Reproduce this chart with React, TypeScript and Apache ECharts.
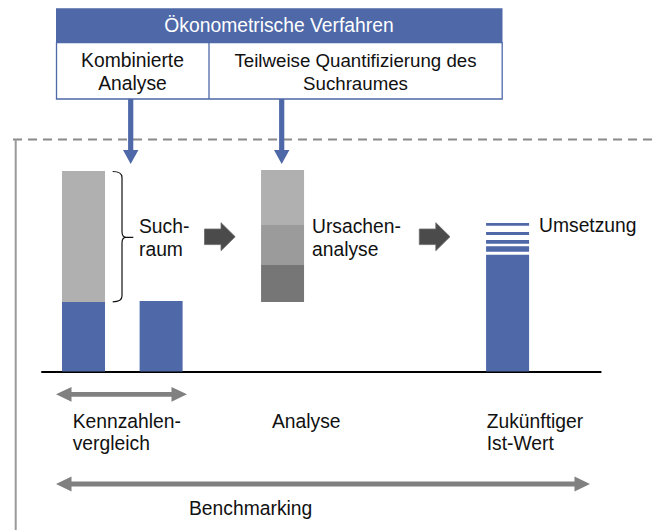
import React, { useEffect, useRef } from 'react';
import * as echarts from 'echarts';

// Stufen (x-Positionen der Säulen) und Werte
const stageNames = ['Kennzahlen A', 'Kennzahlen B', 'Ursachenanalyse', 'Zukünftiger Ist-Wert'];
const stagePositions = [1.07, 3.07, 6.2, 12.0];
const istWerte = [34.8, 35.3, 0, 58.4];
const versatz = [0, 0, 34.8, 0];
const ursacheDunkel = [0, 0, 18.5, 0];
const ursacheMittel = [0, 0, 20, 0];
const suchraumHell = [65.4, 0, 27.5, 0];
const umsetzungLuecken = [1.5, 1.3, 2.6, 3.2];
const umsetzungStreifen = [2.7, 1.8, 1.4, 1.4];

const headerTitle = 'Ökonometrische Verfahren';
const methodLabels = ['Kombinierte\nAnalyse', 'Teilweise Quantifizierung des\nSuchraumes'];
const phaseLabels = ['Kennzahlen-\nvergleich', 'Analyse', 'Zukünftiger\nIst-Wert'];
const barLabels = ['Such-\nraum', 'Ursachen-\nanalyse', 'Umsetzung'];
const spanLabel = 'Benchmarking';

const BLUE = '#4e68a8';
const FONT = '"Liberation Sans", Arial, sans-serif';
const FS = 19.3;

let registered = false;
function registerShapes() {
  if (registered) return;
  registered = true;
  const brace =
    'M112.7 171.5 Q122 171.5 122 177.5 L122 231.5 Q122 237.3 126 237.3 L133.3 237.3 M126 237.3 Q122 237.3 122 243 L122 296 Q122 301.8 112.7 301.8';
  echarts.graphic.registerShape('brace', echarts.graphic.extendPath(brace, {}));
}

function txt(text: string, x: number, y: number, align: string, extra: any = {}) {
  return {
    type: 'text',
    x,
    y,
    style: {
      text,
      fontFamily: FONT,
      fontSize: extra.fontSize || FS,
      fill: extra.fill || '#111',
      textAlign: align,
      align,
      textVerticalAlign: 'middle',
      verticalAlign: 'middle',
      lineHeight: 22.8,
    },
  };
}

function blockArrow(x0: number) {
  const pts = [
    [x0, 229],
    [x0 + 16.5, 229],
    [x0 + 16.5, 222.7],
    [x0 + 30.7, 236.7],
    [x0 + 16.5, 250.7],
    [x0 + 16.5, 244.6],
    [x0, 244.6],
  ];
  return { type: 'polygon', shape: { points: pts }, style: { fill: '#4b4b4b', stroke: '#6a6a6a', lineWidth: 0.8 } };
}

function downArrow(cx: number) {
  const pts = [
    [cx - 2.6, 99],
    [cx + 2.6, 99],
    [cx + 2.6, 150],
    [cx + 7.7, 150],
    [cx, 164],
    [cx - 7.7, 150],
    [cx - 2.6, 150],
  ];
  return { type: 'polygon', shape: { points: pts }, style: { fill: BLUE } };
}

function doubleArrow(x1: number, x2: number, y: number) {
  const hl = 15.5;
  const hh = 7.4;
  const sh = 2.4;
  const pts = [
    [x1, y],
    [x1 + hl, y - hh],
    [x1 + hl, y - sh],
    [x2 - hl, y - sh],
    [x2 - hl, y - hh],
    [x2, y],
    [x2 - hl, y + hh],
    [x2 - hl, y + sh],
    [x1 + hl, y + sh],
    [x1 + hl, y + hh],
  ];
  return { type: 'polygon', shape: { points: pts }, style: { fill: '#808080' } };
}

// rows are [value, position] so that stacking happens on the value dimension
function toData(values: number[]) {
  return values.map((v, i) => [v, stagePositions[i]]);
}

export default function App() {
  const ref = useRef<HTMLDivElement>(null);
  useEffect(() => {
    if (!ref.current) return;
    registerShapes();
    const chart = echarts.init(ref.current, null, { renderer: 'svg' });

    const barBase = { type: 'bar', stack: 's', barWidth: 43, silent: true, encode: { x: 1, y: 0 } };
    const series: any[] = [
      { ...barBase, name: 'Ist-Wert', data: toData(istWerte), itemStyle: { color: BLUE } },
      { ...barBase, name: 'Versatz', data: toData(versatz), itemStyle: { color: 'rgba(0,0,0,0)' } },
      { ...barBase, name: 'Ursache dunkel', data: toData(ursacheDunkel), itemStyle: { color: '#767676' } },
      { ...barBase, name: 'Ursache mittel', data: toData(ursacheMittel), itemStyle: { color: '#9b9b9b' } },
      { ...barBase, name: 'Suchraum', data: toData(suchraumHell), itemStyle: { color: '#b0b0b0' } },
    ];
    umsetzungLuecken.forEach((gap, k) => {
      series.push({
        ...barBase,
        name: 'Lücke ' + (k + 1),
        data: toData([0, 0, 0, gap]),
        itemStyle: { color: 'rgba(0,0,0,0)' },
      });
      series.push({
        ...barBase,
        name: 'Umsetzung ' + (k + 1),
        data: toData([0, 0, 0, umsetzungStreifen[k]]),
        itemStyle: { color: BLUE },
      });
    });

    const graphic: any[] = [
      { type: 'line', shape: { x1: 13, y1: 139.5, x2: 655, y2: 139.5 }, style: { stroke: '#8a8a8a', lineWidth: 2, lineDash: [9, 6] } },
      { type: 'line', shape: { x1: 15.7, y1: 139.5, x2: 15.7, y2: 530 }, style: { stroke: '#9a9a9a', lineWidth: 2 } },
      { type: 'rect', shape: { x: 56, y: 8.3, width: 446.5, height: 34.4 }, style: { fill: BLUE } },
      { type: 'rect', shape: { x: 56.5, y: 42.7, width: 445.7, height: 56.3 }, style: { fill: '#fff', stroke: BLUE, lineWidth: 1.3 } },
      { type: 'line', shape: { x1: 209, y1: 42.7, x2: 209, y2: 99 }, style: { stroke: BLUE, lineWidth: 1.3 } },
      txt(headerTitle, 279, 25.5, 'center', { fill: '#fff' }),
      txt(methodLabels[0], 132.5, 72.3, 'center'),
      txt(methodLabels[1], 355.5, 72.3, 'center', { fontSize: 18.7 }),
      downArrow(130.7),
      downArrow(281.7),
      { type: 'brace', x: 0, y: 0, style: { stroke: '#111', fill: 'none', lineWidth: 1.2 } },
      txt(barLabels[0], 139, 237.7, 'left'),
      blockArrow(204.5),
      txt(barLabels[1], 312, 237.7, 'left'),
      blockArrow(419.3),
      txt(barLabels[2], 539, 225, 'left'),
      doubleArrow(56, 187, 394.3),
      txt(phaseLabels[0], 72.7, 432.6, 'left'),
      txt(phaseLabels[1], 272, 421.7, 'left'),
      txt(phaseLabels[2], 486.7, 432.6, 'left'),
      doubleArrow(56, 590, 484),
      txt(spanLabel, 189, 508, 'left'),
    ];

    chart.setOption({
      animation: false,
      grid: { left: 42, right: 54.3, top: 169.5, bottom: 158.5, containLabel: false },
      xAxis: {
        type: 'value',
        min: 0,
        max: 14.4,
        axisLine: { show: true, onZero: false, lineStyle: { color: '#000', width: 2 } },
        axisTick: { show: false },
        axisLabel: { show: false },
        splitLine: { show: false },
      },
      yAxis: {
        type: 'value',
        min: 0,
        max: 101,
        show: false,
        splitLine: { show: false },
      },
      series,
      graphic,
    });
    return () => chart.dispose();
  }, []);
  return (
    <div
      ref={ref}
      style={{ position: 'absolute', left: 0, top: 0, width: 655, height: 530, background: '#fff' }}
    />
  );
}
